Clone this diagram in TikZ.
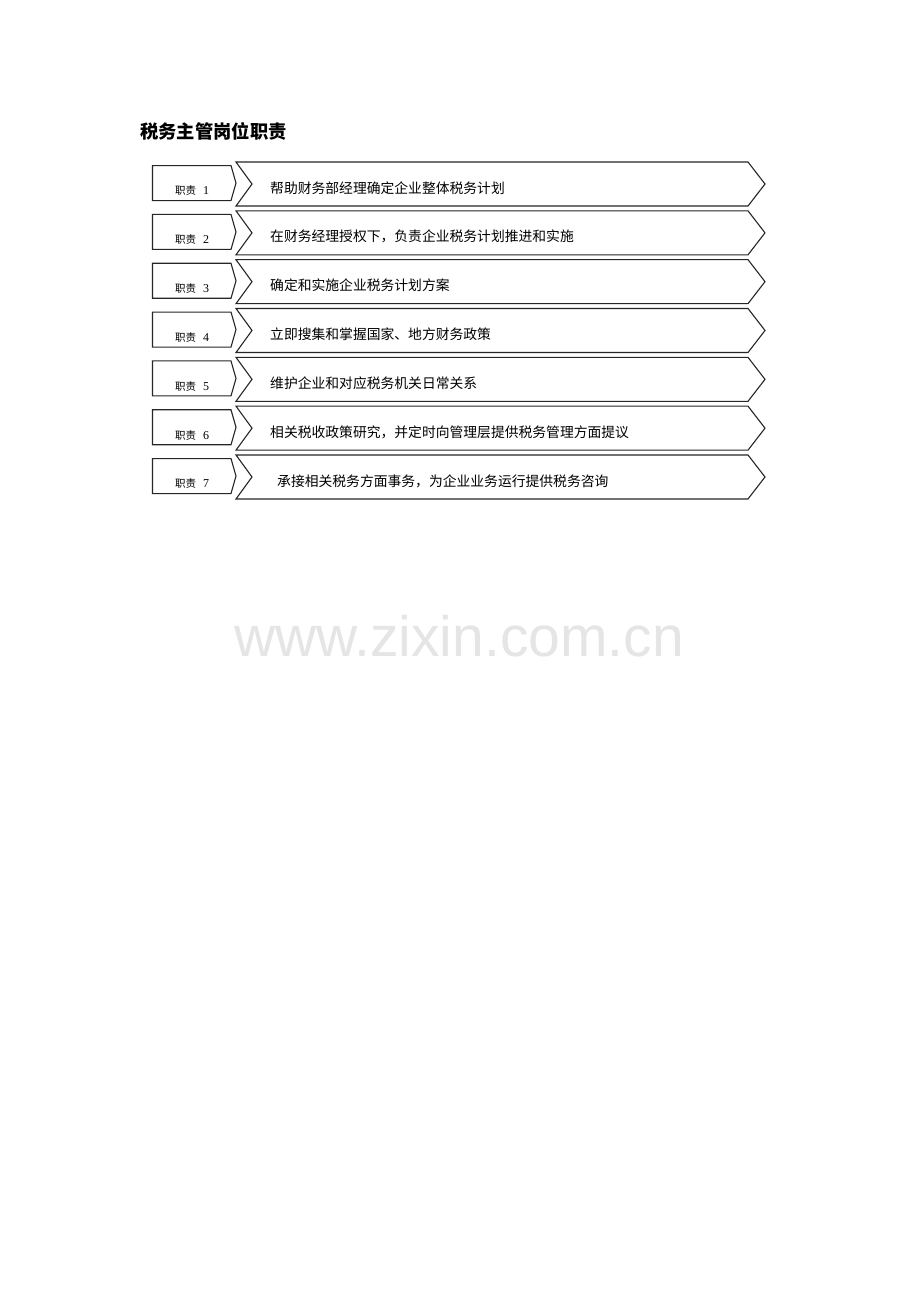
\documentclass[tikz,border=0pt]{standalone}
\usepackage{fontspec}
\setmainfont{Liberation Serif}
\newfontfamily\cjk{Noto Sans CJK SC}
\newfontfamily\wmfont{Liberation Sans}
\begin{document}
\begin{tikzpicture}[x=1pt,y=-1pt,
  shapeline/.style={draw=black!85,line width=1.1pt,line join=miter},
  bodytext/.style={anchor=west,inner sep=0pt,font=\cjk\fontsize{13.8}{15}\selectfont},
  labeltext/.style={anchor=west,inner sep=0pt,font=\fontsize{12}{13}\selectfont},
  titletext/.style={anchor=west,inner sep=0pt,font=\cjk\bfseries\fontsize{18.3}{20}\selectfont},
  watermark/.style={inner sep=0pt,text=black!10,font=\wmfont\fontsize{57}{60}\selectfont}]
\useasboundingbox[fill=white] (0,0) rectangle (920,1302);
\node[titletext] (title) at (140,131) {税务主管岗位职责};
\foreach \i/\t/\dx in {
  1/帮助财务部经理确定企业整体税务计划/0,
  2/在财务经理授权下，负责企业税务计划推进和实施/0,
  3/确定和实施企业税务计划方案/0,
  4/立即搜集和掌握国家、地方财务政策/0,
  5/维护企业和对应税务机关日常关系/0,
  6/相关税收政策研究，并定时向管理层提供税务管理方面提议/0,
  7/承接相关税务方面事务，为企业业务运行提供税务咨询/7}{
  \pgfmathsetmacro{\top}{162+48.83*(\i-1)}
  \pgfmathsetmacro{\bot}{\top+44}
  \pgfmathsetmacro{\mid}{\top+22}
  \pgfmathsetmacro{\stop}{\top+3.6}
  \pgfmathsetmacro{\sbot}{\bot-5.4}
  \pgfmathsetmacro{\smid}{(\stop+\sbot)/2}
  \draw[shapeline] (236,\top) -- (748,\top) -- (765,\mid) -- (748,\bot) -- (236,\bot) -- (252,\mid) -- cycle;
  \draw[shapeline] (152.5,\stop) -- (231,\stop) -- (236,\smid) -- (231,\sbot) -- (152.5,\sbot) -- cycle;
  \node[bodytext] (duty\i) at (270+\dx,\mid+4) {\t};
  \node[labeltext] (label\i) at (175,\mid+7) {{\cjk\fontsize{10.5}{12}\selectfont 职责}\hspace{7pt}\i};
}
\node[watermark] (wm) at (459,636) {www.zixin.com.cn};
\end{tikzpicture}
\end{document}
